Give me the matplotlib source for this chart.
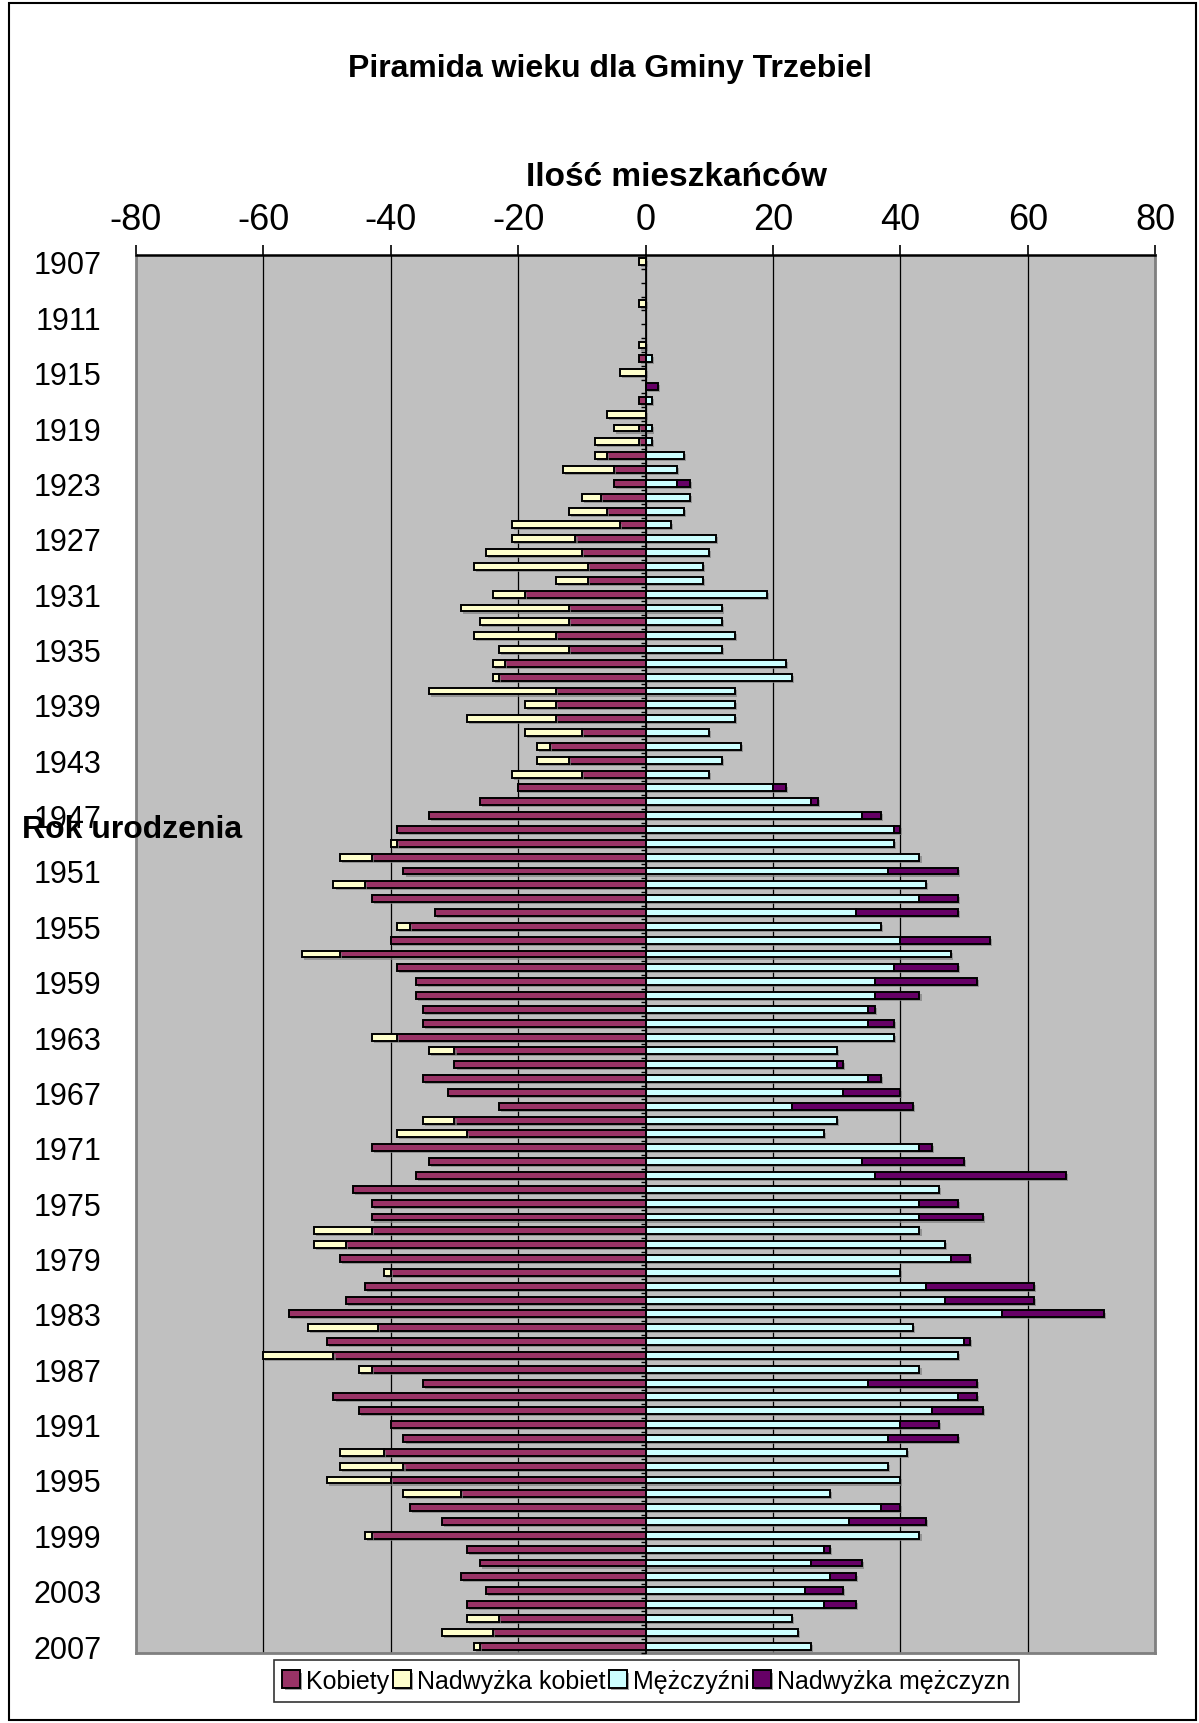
"""
Piramida wieku dla Gminy Trzebiel - odtworzenie wykresu Excela.
"""

import numpy as np
import matplotlib
matplotlib.use("Agg")
import matplotlib.pyplot as plt
import matplotlib.patheffects as pe
from matplotlib.patches import Rectangle

plt.rcParams['font.family'] = ['Liberation Sans', 'DejaVu Sans']

# --- dane ---
lata = list(range(1907, 2008))

kobiety = [
    1, 0, 0, 1, 0, 0, 1, 1, 4, 0,
    1, 6, 5, 8, 8, 13, 5, 10, 12, 21,
    21, 25, 27, 14, 24, 29, 26, 27, 23, 24,
    24, 34, 19, 28, 19, 17, 17, 21, 20, 26,
    34, 39, 40, 48, 38, 49, 43, 33, 39, 40,
    54, 39, 36, 36, 35, 35, 43, 34, 30, 35,
    31, 23, 35, 39, 43, 34, 36, 46, 43, 43,
    52, 52, 48, 41, 44, 47, 56, 53, 50, 60,
    45, 35, 49, 45, 40, 38, 48, 48, 50, 38,
    37, 32, 44, 28, 26, 29, 25, 28, 28, 32,
    27,
]

mezczyzni = [
    0, 0, 0, 0, 0, 0, 0, 1, 0, 2,
    1, 0, 1, 1, 6, 5, 7, 7, 6, 4,
    11, 10, 9, 9, 19, 12, 12, 14, 12, 22,
    23, 14, 14, 14, 10, 15, 12, 10, 22, 27,
    37, 40, 39, 43, 49, 44, 49, 49, 37, 54,
    48, 49, 52, 43, 36, 39, 39, 30, 31, 37,
    40, 42, 30, 28, 45, 50, 66, 46, 49, 53,
    43, 47, 51, 40, 61, 61, 72, 42, 51, 49,
    43, 52, 52, 53, 46, 49, 41, 38, 40, 29,
    40, 44, 43, 29, 34, 33, 31, 33, 23, 24,
    26,
]

etykiety_lat = lata[::4]
x_ticks = [-80, -60, -40, -20, 0, 20, 40, 60, 80]
x_tick_labels = ['-80', '-60', '-40', '-20', '0', '20', '40', '60', '80']

nazwy_serii = ['Kobiety', 'Nadwyżka kobiet', 'Mężczyźni', 'Nadwyżka mężczyzn']
kolory = ['#993366', '#FFFFCC', '#CCFFFF', '#660066']

# --- przeliczenie ---
lata_arr = np.array(lata)
k = np.array(kobiety)
m = np.array(mezczyzni)
wspolne = np.minimum(k, m)
nadw_k = np.clip(k - m, 0, None)
nadw_m = np.clip(m - k, 0, None)

fig = plt.figure(figsize=(11.99, 17.24), dpi=100)
ax = fig.add_axes([0.1134, 0.0406, 0.85, 0.8109])
ax.set_facecolor('#C0C0C0')

bar_h = 0.5
shadow = [pe.SimplePatchShadow(offset=(1.5, -1.5), shadow_rgbFace='#808080', alpha=0.7), pe.Normal()]


def rysuj(szerokosc, lewo, kolor, nazwa):
    mask = szerokosc != 0
    bars = ax.barh(lata_arr[mask], szerokosc[mask], left=lewo[mask], height=bar_h,
                   color=kolor, edgecolor='black', linewidth=1.4, label=nazwa, zorder=3)
    for b in bars:
        b.set_path_effects(shadow)
    return bars


zero = np.zeros_like(k)
rysuj(-wspolne, zero, kolory[0], nazwy_serii[0])
rysuj(-nadw_k, -wspolne, kolory[1], nazwy_serii[1])
rysuj(wspolne, zero, kolory[2], nazwy_serii[2])
rysuj(nadw_m, wspolne, kolory[3], nazwy_serii[3])

# osie
ax.set_xlim(-80, 80)
ax.set_ylim(lata[-1] + 0.5, lata[0] - 0.5)
ax.xaxis.tick_top()
ax.set_xticks(x_ticks)
ax.set_xticklabels(x_tick_labels, fontsize=26)
ax.tick_params(axis='x', length=7, width=1.2, pad=6)
ax.set_yticks(etykiety_lat)
ax.set_yticklabels([str(r) for r in etykiety_lat], fontsize=22)
ax.tick_params(axis='y', length=0, pad=25)

ax.grid(axis='x', color='black', linewidth=0.9, zorder=1)
ax.set_axisbelow(True)
for side in ['left', 'right', 'bottom']:
    ax.spines[side].set_color('#808080')
    ax.spines[side].set_linewidth(2)
ax.spines['top'].set_color('black')
ax.spines['top'].set_linewidth(1.8)

# oś pionowa w zerze z kreskami między kategoriami
sec = ax.secondary_yaxis(0.5)
sec.set_alignment('left')
sec.set_yticks(lata_arr + 0.5)
sec.set_yticklabels([])
sec.tick_params(axis='y', length=3.5, width=1, color='black', direction='out')
sec.spines['left'].set_linewidth(1.3)
sec.spines['left'].set_color('black')
sec.set_zorder(4)

# teksty
fig.text(0.509, 0.960, 'Piramida wieku dla Gminy Trzebiel', ha='center', va='center',
         fontsize=23, fontweight='bold')
fig.text(0.5646, 0.897, 'Ilość mieszkańców', ha='center', va='center',
         fontsize=24, fontweight='bold')
fig.text(0.018, 0.5186, 'Rok urodzenia', ha='left', va='center',
         fontsize=23, fontweight='bold', zorder=10)

leg = ax.legend(loc='center', bbox_to_anchor=(0.539, 0.0244), bbox_transform=fig.transFigure,
                ncol=4, fontsize=18, frameon=True, fancybox=False, edgecolor='black',
                handlelength=0.7, handleheight=0.7, handletextpad=0.25, columnspacing=0.15,
                borderpad=0.35, borderaxespad=0)
leg.get_frame().set_linewidth(1.2)

# ramka wykresu
fig.patches.append(Rectangle((0.0075, 0.0017), 0.99, 0.996, transform=fig.transFigure,
                             fill=False, edgecolor='black', linewidth=1.5))

fig.savefig('out.png', dpi=100, facecolor='white')
